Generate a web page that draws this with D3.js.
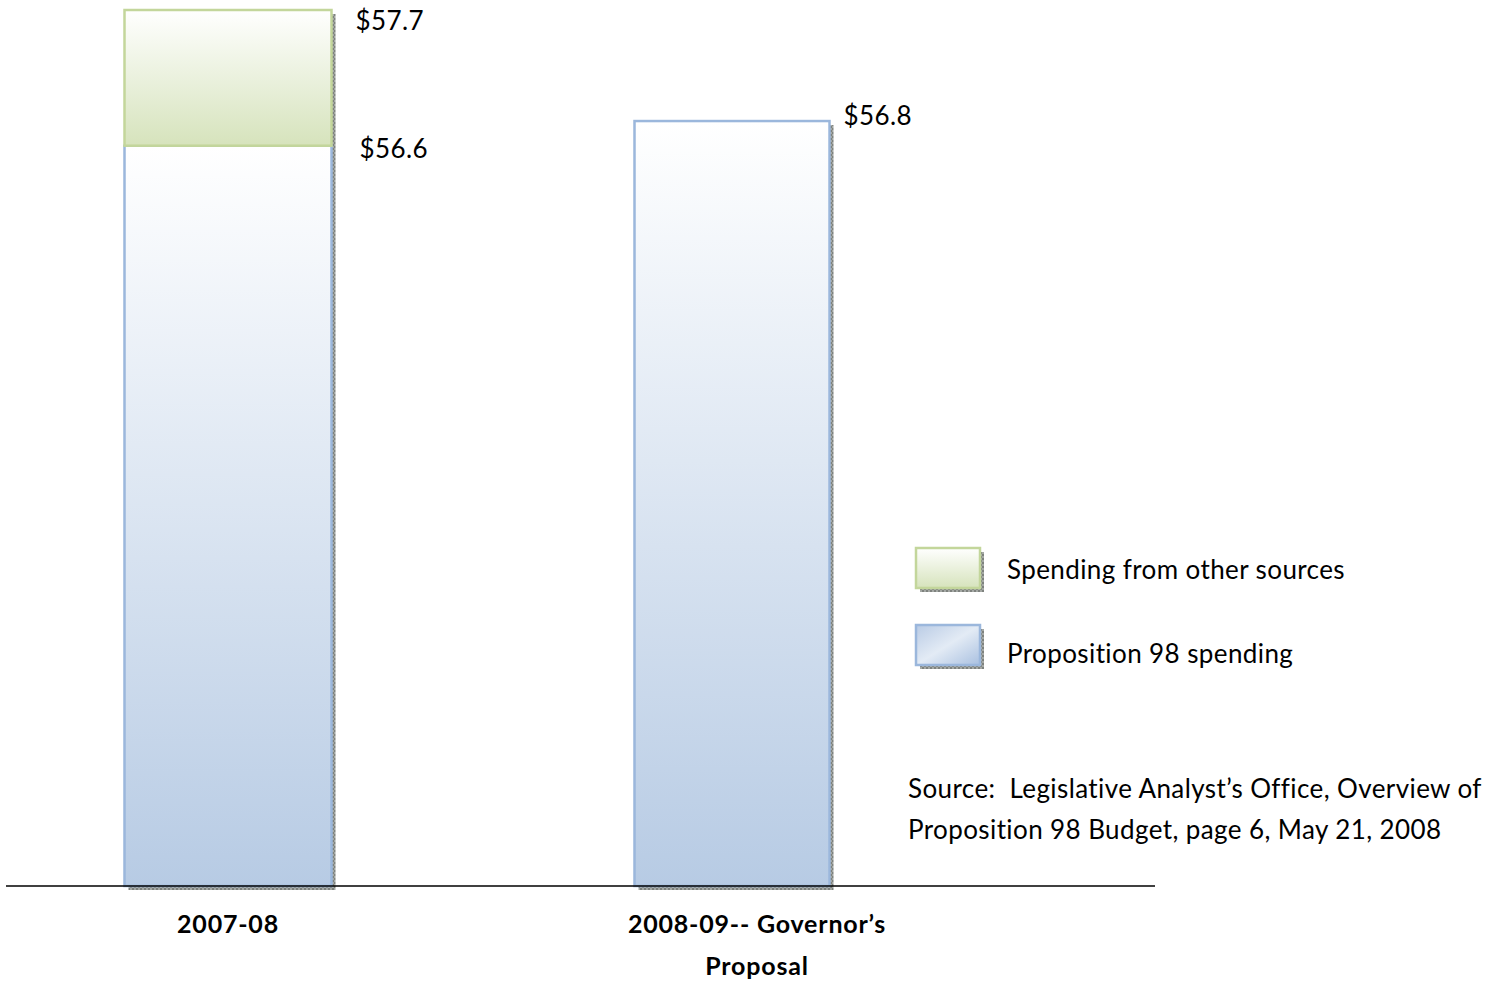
<!DOCTYPE html>
<html>
<head>
<meta charset="utf-8">
<script src="https://cdn.jsdelivr.net/npm/d3@7"></script>
<style>
  body { margin: 0; background: #fff; }
  text { font-family: Lato, "Open Sans", sans-serif; fill: #000; white-space: pre; letter-spacing: 0.4px; }
</style>
</head>
<body>
<div id="app"></div>
<script>
// data
var categories = ["2007-08", "2008-09-- Governor\u2019s Proposal"]
var prop98 = [56.6, 56.8]
var otherSources = [1.1, 0]
var valueLabels = ["$56.6", "$56.8"]
var totalLabels = ["$57.7", null]
var legendNames = ["Spending from other sources", "Proposition 98 spending"]
var sourceLines = ["Source:  Legislative Analyst\u2019s Office, Overview of", "Proposition 98 Budget, page 6, May 21, 2008"]

var width = 1505, height = 981

var svg = d3.select("#app").append("svg")
  .attr("width", width)
  .attr("height", height)

// gradients + shadow pattern
var defs = svg.append("defs")
function vgrad(id, top, bottom) {
  var g = defs.append("linearGradient").attr("id", id)
    .attr("x1", 0).attr("y1", 0).attr("x2", 0).attr("y2", 1)
  g.append("stop").attr("offset", "0%").attr("stop-color", top)
  g.append("stop").attr("offset", "100%").attr("stop-color", bottom)
}
vgrad("blueGrad", "#ffffff", "#b7cbe4")
vgrad("greenGrad", "#ffffff", "#d6e3bc")
var lg = defs.append("linearGradient").attr("id", "blueLegend")
  .attr("x1", 0).attr("y1", 0).attr("x2", 1).attr("y2", 1)
lg.append("stop").attr("offset", "0%").attr("stop-color", "#b9cbe5")
lg.append("stop").attr("offset", "50%").attr("stop-color", "#e3ebf5")
lg.append("stop").attr("offset", "100%").attr("stop-color", "#a9c0e0")

var pat = defs.append("pattern").attr("id", "shadow")
  .attr("width", 4).attr("height", 4).attr("patternUnits", "userSpaceOnUse")
pat.append("rect").attr("width", 4).attr("height", 4).attr("fill", "#a4a8a4")
pat.append("rect").attr("width", 2).attr("height", 2).attr("fill", "#7e827e")
pat.append("rect").attr("x", 2).attr("y", 2).attr("width", 2).attr("height", 2).attr("fill", "#7e827e")

// scales
var x = d3.scalePoint().domain(categories).range([228, 732])
var y = d3.scaleLinear().domain([50.6, 57.7]).range([886, 10])
var barW = [207, 195]

var bars = svg.selectAll(".bar")
  .data(categories)
  .enter()
  .append("g")
  .attr("class", "bar")

// shadows
bars.append("rect")
  .attr("x", (d, i) => x(d) - barW[i] / 2 + 4)
  .attr("y", (d, i) => y(prop98[i] + otherSources[i]) + 4)
  .attr("width", (d, i) => barW[i])
  .attr("height", (d, i) => y.range()[0] - y(prop98[i] + otherSources[i]))
  .attr("fill", "url(#shadow)")

// prop 98 part
bars.append("rect")
  .attr("x", (d, i) => x(d) - barW[i] / 2)
  .attr("y", (d, i) => y(prop98[i]))
  .attr("width", (d, i) => barW[i])
  .attr("height", (d, i) => y.range()[0] - y(prop98[i]))
  .attr("fill", "url(#blueGrad)")
  .attr("stroke", "#9bb7dc")
  .attr("stroke-width", 2.5)

// other sources part
bars.filter((d, i) => otherSources[i] > 0)
  .append("rect")
  .attr("x", (d) => x(d) - barW[categories.indexOf(d)] / 2)
  .attr("y", (d) => { var i = categories.indexOf(d); return y(prop98[i] + otherSources[i]) })
  .attr("width", (d) => barW[categories.indexOf(d)])
  .attr("height", (d) => { var i = categories.indexOf(d); return y(prop98[i]) - y(prop98[i] + otherSources[i]) })
  .attr("fill", "url(#greenGrad)")
  .attr("stroke", "#c3d69b")
  .attr("stroke-width", 2.5)

// value labels
bars.append("text")
  .attr("x", (d, i) => x(d) + barW[i] / 2 + (i === 0 ? 28 : 14))
  .attr("y", (d, i) => y(prop98[i]) + (i === 0 ? 12 : 4))
  .attr("font-size", 26)
  .text((d, i) => valueLabels[i])

bars.filter((d, i) => totalLabels[i])
  .append("text")
  .attr("x", (d) => x(d) + barW[0] / 2 + 24)
  .attr("y", (d) => { var i = categories.indexOf(d); return y(prop98[i] + otherSources[i]) + 20 })
  .attr("font-size", 26)
  .text((d) => totalLabels[categories.indexOf(d)])

// baseline
svg.append("line")
  .attr("x1", 6).attr("x2", 1155)
  .attr("y1", y.range()[0]).attr("y2", y.range()[0])
  .attr("stroke", "#000").attr("stroke-width", 1.5)

// category labels (wrapped)
var catText = svg.selectAll(".cat")
  .data(categories)
  .enter()
  .append("text")
  .attr("class", "cat")
  .attr("text-anchor", "middle")
  .attr("font-size", 25)
  .attr("font-weight", "bold")
  .style("letter-spacing", "0.8px")
catText.each(function (d, i) {
  var t = d3.select(this)
  var parts = i === 1 ? ["2008-09-- Governor\u2019s", "Proposal"] : [d]
  var cx = x(d) + (i === 1 ? 25 : 0)
  parts.forEach((p, k) => {
    t.append("tspan").attr("x", cx).attr("y", 933 + k * 42).text(p)
  })
})

// legend
var legend = svg.append("g").attr("transform", "translate(916,548)")
var legendFills = ["url(#greenGrad)", "url(#blueLegend)"]
var legendStrokes = ["#c3d69b", "#9bb7dc"]
legendNames.forEach((name, i) => {
  var g = legend.append("g").attr("transform", "translate(0," + (i * 77) + ")")
  g.append("rect").attr("x", 4).attr("y", 4).attr("width", 64).attr("height", 40).attr("fill", "url(#shadow)")
  g.append("rect").attr("x", 0).attr("y", 0).attr("width", 64).attr("height", 40)
    .attr("fill", legendFills[i]).attr("stroke", legendStrokes[i]).attr("stroke-width", 2.5)
  g.append("text").attr("x", 91).attr("y", 31 + i * 7).attr("font-size", 26).text(name)
})

// source note
svg.append("g").selectAll("text")
  .data(sourceLines)
  .enter()
  .append("text")
  .attr("x", 908)
  .attr("y", (d, i) => 798 + i * 41)
  .attr("font-size", 26)
  .text(d => d)
</script>
</body>
</html>
